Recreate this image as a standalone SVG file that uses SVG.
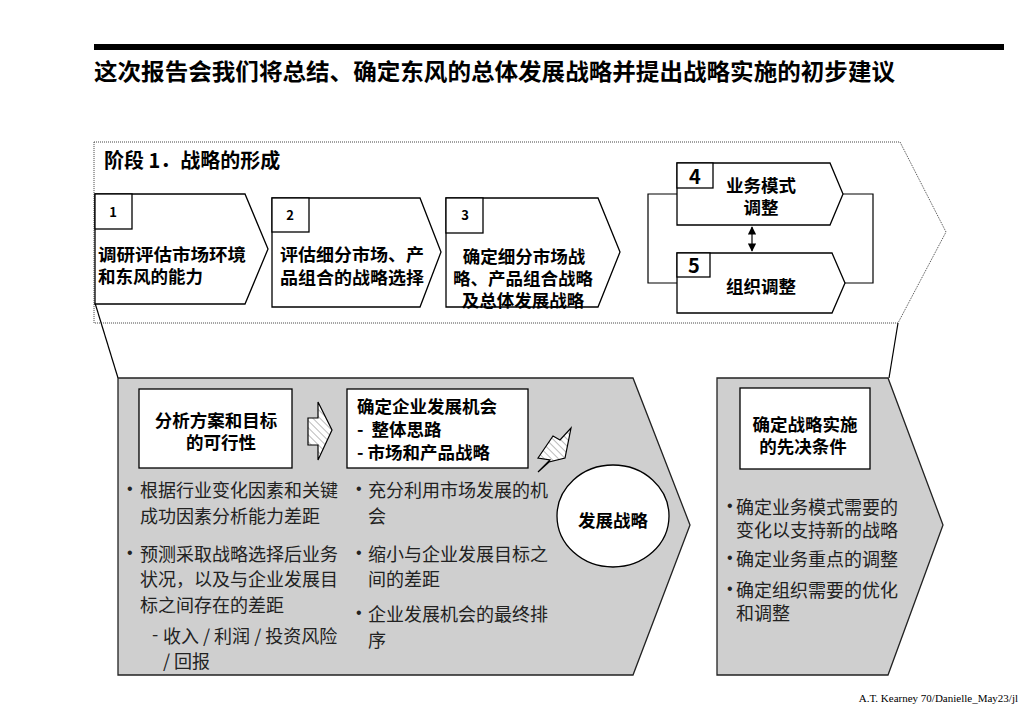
<svg xmlns="http://www.w3.org/2000/svg" width="1024" height="709" viewBox="0 0 1024 709">
<defs>
<style>
.t{font-family:"Noto Sans CJK SC","Noto Sans",sans-serif;fill:#000}
.b{font-weight:700;font-size:17.5px}
.n{font-weight:400;font-size:18px;fill:#222}
.dot{font-family:"Liberation Sans",Arial,sans-serif;font-size:16px;fill:#222}
.box{fill:#fff;stroke:#000;stroke-width:1.3}
.panel{fill:#cfcfcf;stroke:#222;stroke-width:1.3}
.ln{fill:none;stroke:#000;stroke-width:1.2}
</style>
<pattern id="hatch" patternUnits="userSpaceOnUse" width="5" height="5" patternTransform="rotate(-45)">
<rect width="5" height="5" fill="#fff"/>
<line x1="0" y1="0" x2="0" y2="5" stroke="#777" stroke-width="1"/>
</pattern>
<marker id="ah" viewBox="0 0 10 10" refX="9" refY="5" markerWidth="7" markerHeight="7" orient="auto-start-reverse">
<path d="M0,0 L10,5 L0,10 z" fill="#000"/>
</marker>
</defs>
<rect width="1024" height="709" fill="#fff"/>

<g id="header">
<rect x="94" y="44" width="910" height="6" fill="#000"/>
<text class="t" x="94" y="80" font-size="23" font-weight="700" textLength="801" lengthAdjust="spacingAndGlyphs">这次报告会我们将总结、确定东风的总体发展战略并提出战略实施的初步建议</text>
</g>

<g id="stage1">
<path d="M94,142 L900,142 L946,232 L898,323 L94,323 Z" fill="#fff" stroke="#444" stroke-width="1" stroke-dasharray="1,1"/>
<text class="t" x="104" y="168" font-size="20" font-weight="700">阶段 1．战略的形成</text>
</g>

<g id="connectors">
<line class="ln" x1="95" y1="303" x2="118" y2="378"/>
<line class="ln" x1="898" y1="323" x2="889" y2="378"/>
<polyline class="ln" points="843,194 873,194 873,283 845,283"/>
<polyline class="ln" points="677,194 648,194 648,283 677,283"/>
<line class="ln" x1="752" y1="227" x2="752" y2="251" marker-start="url(#ah)" marker-end="url(#ah)"/>
</g>

<g id="step1">
<path class="box" d="M95,194 L245,194 L268,249 L245,304 L95,304 Z"/>
<rect class="box" x="95" y="194" width="37" height="35"/>
<text class="t" x="113" y="217" font-size="13" font-weight="700" text-anchor="middle">1</text>
<text class="t b" x="98" y="261" textLength="148" lengthAdjust="spacingAndGlyphs">调研评估市场环境</text>
<text class="t b" x="98" y="283">和东风的能力</text>
</g>

<g id="step2">
<path class="box" d="M272,198 L420,198 L441,252 L420,307 L272,307 Z"/>
<rect class="box" x="272" y="198" width="37" height="34"/>
<text class="t" x="290" y="220" font-size="13" font-weight="700" text-anchor="middle">2</text>
<text class="t b" x="280" y="261" textLength="144" lengthAdjust="spacingAndGlyphs">评估细分市场、产</text>
<text class="t b" x="280" y="284" textLength="144" lengthAdjust="spacingAndGlyphs">品组合的战略选择</text>
</g>

<g id="step3">
<path class="box" d="M446,198 L598,198 L620,252 L598,307 L446,307 Z"/>
<rect class="box" x="446" y="198" width="37" height="35"/>
<text class="t" x="465" y="220" font-size="13" font-weight="700" text-anchor="middle">3</text>
<text class="t b" x="524" y="263" text-anchor="middle">确定细分市场战</text>
<text class="t b" x="523" y="285" text-anchor="middle">略、产品组合战略</text>
<text class="t b" x="523" y="307" text-anchor="middle">及总体发展战略</text>
</g>

<g id="step4">
<path class="box" d="M677,163 L830,163 L843,194 L830,225 L677,225 Z"/>
<rect class="box" x="677" y="163" width="36" height="25"/>
<text class="t" x="695" y="184" font-size="20" font-weight="700" text-anchor="middle">4</text>
<text class="t b" x="761" y="192" text-anchor="middle">业务模式</text>
<text class="t b" x="761" y="214" text-anchor="middle">调整</text>
</g>

<g id="step5">
<path class="box" d="M677,253 L832,253 L845,283 L832,313 L677,313 Z"/>
<rect class="box" x="677" y="253" width="33" height="24"/>
<text class="t" x="694" y="273" font-size="20" font-weight="700" text-anchor="middle">5</text>
<text class="t b" x="761" y="293" text-anchor="middle">组织调整</text>
</g>

<g id="panel-strategy">
<path class="panel" d="M118,378 L633,378 L690,525 L633,675 L118,675 Z"/>
</g>

<g id="box-feasibility">
<rect class="box" x="139" y="389" width="153" height="79"/>
<text class="t b" x="216" y="427" text-anchor="middle">分析方案和目标</text>
<text class="t b" x="221" y="449" text-anchor="middle">的可行性</text>
</g>

<g id="arrow1">
<path d="M318,402 L332,430 L318,460 L318,445 L308,445 L308,418 L318,418 Z" fill="url(#hatch)" stroke="#000" stroke-width="1.2"/>
</g>

<g id="box-opportunity">
<rect class="box" x="347" y="389" width="181" height="79"/>
<text class="t b" x="357" y="413">确定企业发展机会</text>
<text class="t b" x="357" y="436" xml:space="preserve">-  整体思路</text>
<text class="t b" x="357" y="459">- 市场和产品战略</text>
</g>

<g id="arrow2">
<path d="M538,458 L553,436 L560,440 L571,428 L565,458 L549,462 L538,472 L550,460 Z" fill="url(#hatch)" stroke="#000" stroke-width="1.2"/>
</g>

<g id="ellipse-strategy">
<ellipse cx="613" cy="516" rx="56" ry="51" fill="#fff" stroke="#000" stroke-width="1.3"/>
<text class="t b" x="613" y="527" text-anchor="middle">发展战略</text>
</g>

<g id="bullets-left">
<text class="dot" x="127" y="494">•</text>
<text class="t n" x="140" y="497">根据行业变化因素和关键</text>
<text class="t n" x="140" y="523">成功因素分析能力差距</text>
<text class="dot" x="127" y="558">•</text>
<text class="t n" x="140" y="561">预测采取战略选择后业务</text>
<text class="t n" x="140" y="586">状况，以及与企业发展目</text>
<text class="t n" x="140" y="612">标之间存在的差距</text>
<text class="t n" x="152" y="641" font-size="14" fill="#666">-</text>
<text class="t n" x="163" y="643" xml:space="preserve">收入 / 利润 / 投资风险</text>
<text class="t n" x="163" y="668">/ 回报</text>
</g>

<g id="bullets-mid">
<text class="dot" x="356" y="494">•</text>
<text class="t n" x="368" y="497">充分利用市场发展的机</text>
<text class="t n" x="368" y="523">会</text>
<text class="dot" x="356" y="558">•</text>
<text class="t n" x="368" y="561">缩小与企业发展目标之</text>
<text class="t n" x="368" y="586">间的差距</text>
<text class="dot" x="356" y="618">•</text>
<text class="t n" x="368" y="621">企业发展机会的最终排</text>
<text class="t n" x="368" y="647">序</text>
</g>

<g id="panel-implementation">
<path class="panel" d="M717,378 L888,378 L943,525 L888,675 L717,675 Z"/>
<rect class="box" x="740" y="388" width="130" height="81"/>
<text class="t b" x="805" y="431" text-anchor="middle">确定战略实施</text>
<text class="t b" x="803" y="453" text-anchor="middle">的先决条件</text>
<text class="dot" x="727" y="511">•</text>
<text class="t n" x="736" y="514">确定业务模式需要的</text>
<text class="t n" x="736" y="537">变化以支持新的战略</text>
<text class="dot" x="727" y="563">•</text>
<text class="t n" x="736" y="566">确定业务重点的调整</text>
<text class="dot" x="727" y="594">•</text>
<text class="t n" x="736" y="597">确定组织需要的优化</text>
<text class="t n" x="736" y="620">和调整</text>
</g>

<g id="footer">
<text x="1018" y="702" font-family="Liberation Serif,serif" font-size="11" text-anchor="end" fill="#000">A.T. Kearney 70/Danielle_May23/jl</text>
</g>
</svg>
